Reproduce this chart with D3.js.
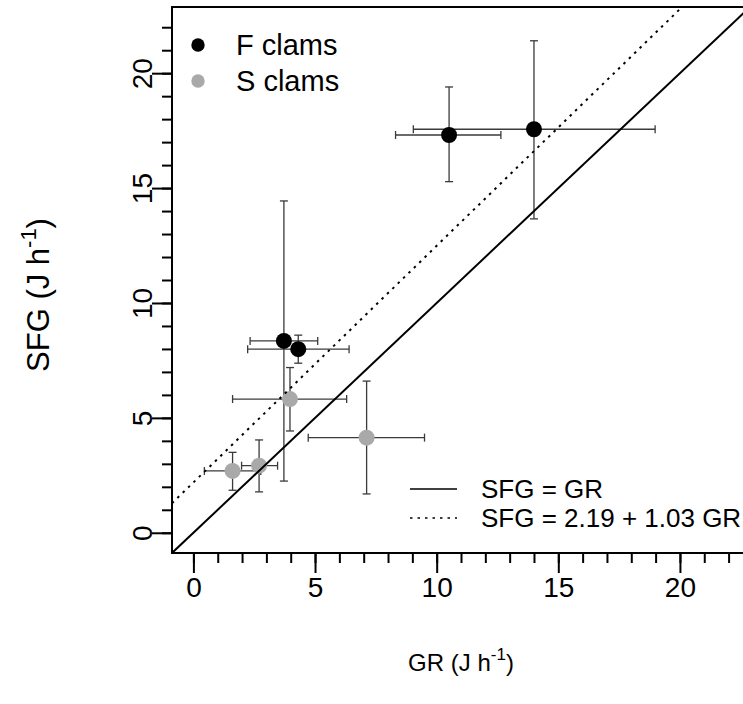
<!DOCTYPE html>
<html>
<head>
<meta charset="utf-8">
<script src="https://cdn.jsdelivr.net/npm/d3@7"></script>
<style>
  body { margin: 0; background: #fff; }
  text { font-family: Arial, "Liberation Sans", sans-serif; }
</style>
</head>
<body>
<div id="chart"></div>
<script>
// data
const group = ['F', 'F', 'F', 'F', 'S', 'S', 'S', 'S']
const gr = [3.72, 4.31, 10.51, 14.0, 1.61, 2.70, 3.97, 7.12]
const grLo = [2.33, 2.23, 8.31, 9.04, 0.45, 1.98, 1.61, 4.72]
const grHi = [5.11, 6.40, 12.64, 18.98, 2.77, 3.46, 6.30, 9.50]
const sfg = [8.35, 7.99, 17.31, 17.56, 2.69, 2.92, 5.82, 4.14]
const sfgLo = [2.25, 7.38, 15.28, 13.66, 1.85, 1.78, 4.43, 1.69]
const sfgHi = [14.44, 8.60, 19.40, 21.41, 3.50, 4.04, 7.19, 6.60]

const majorTicks = [0, 5, 10, 15, 20]
const minorTicks = d3.range(0, 23)
const fits = [
  { label: 'SFG = GR', a: 0, b: 1, dash: null },
  { label: 'SFG = 2.19 + 1.03 GR', a: 2.19, b: 1.03, dash: '2.5,5' }
]
const groupNames = ['F clams', 'S clams']
const colors = { F: '#000000', S: '#a9a9a9' }

const w = 743
const h = 704
const pLeft = 172, pRight = 750, pTop = 7, pBottom = 553

const x = d3.scaleLinear().domain([-0.88, 22.88]).range([pLeft, pRight])
const y = d3.scaleLinear().domain([-0.88, 22.88]).range([pBottom, pTop])

const data = group.map((g, i) => ({
  g: g, x: gr[i], xl: grLo[i], xh: grHi[i], y: sfg[i], yl: sfgLo[i], yh: sfgHi[i]
}))

const svg = d3.select('#chart')
  .append('svg')
  .attr('width', w)
  .attr('height', h)

svg.append('rect').attr('width', w).attr('height', h).attr('fill', '#fff')

svg.append('clipPath').attr('id', 'clip')
  .append('rect')
  .attr('x', pLeft).attr('y', pTop)
  .attr('width', pRight - pLeft).attr('height', pBottom - pTop)

// error bars
const cap = 4
const bars = svg.append('g')
  .attr('stroke', '#3a3a3a')
  .attr('stroke-width', 1.3)
  .attr('fill', 'none')

data.forEach(d => {
  bars.append('line').attr('x1', x(d.xl)).attr('x2', x(d.xh)).attr('y1', y(d.y)).attr('y2', y(d.y))
  bars.append('line').attr('x1', x(d.xl)).attr('x2', x(d.xl)).attr('y1', y(d.y) - cap).attr('y2', y(d.y) + cap)
  bars.append('line').attr('x1', x(d.xh)).attr('x2', x(d.xh)).attr('y1', y(d.y) - cap).attr('y2', y(d.y) + cap)
  bars.append('line').attr('x1', x(d.x)).attr('x2', x(d.x)).attr('y1', y(d.yl)).attr('y2', y(d.yh))
  bars.append('line').attr('x1', x(d.x) - cap).attr('x2', x(d.x) + cap).attr('y1', y(d.yl)).attr('y2', y(d.yl))
  bars.append('line').attr('x1', x(d.x) - cap).attr('x2', x(d.x) + cap).attr('y1', y(d.yh)).attr('y2', y(d.yh))
})

svg.selectAll('circle.pt')
  .data(data)
  .enter()
  .append('circle')
  .attr('class', 'pt')
  .attr('cx', d => x(d.x))
  .attr('cy', d => y(d.y))
  .attr('r', 8)
  .attr('fill', d => colors[d.g])

// fitted lines
const x0 = -0.88, x1 = 22.88
svg.append('g').attr('clip-path', 'url(#clip)')
  .selectAll('line')
  .data(fits)
  .enter()
  .append('line')
  .attr('x1', x(x0))
  .attr('x2', x(x1))
  .attr('y1', d => y(d.a + d.b * x0))
  .attr('y2', d => y(d.a + d.b * x1))
  .attr('stroke', '#000')
  .attr('stroke-width', 2)
  .attr('stroke-dasharray', d => d.dash)

// box
svg.append('rect')
  .attr('x', pLeft).attr('y', pTop)
  .attr('width', pRight - pLeft).attr('height', pBottom - pTop)
  .attr('fill', 'none').attr('stroke', '#000').attr('stroke-width', 2)

// axes
const minorX = d3.axisBottom(x).tickValues(minorTicks).tickSize(10).tickFormat('')
const majorX = d3.axisBottom(x).tickValues(majorTicks).tickSize(20).tickPadding(4)
const minorY = d3.axisLeft(y).tickValues(minorTicks).tickSize(10).tickFormat('')
const majorY = d3.axisLeft(y).tickValues(majorTicks).tickSize(20)

function style(g) {
  g.select('.domain').remove()
  g.selectAll('line').attr('stroke', '#000').attr('stroke-width', 2)
  g.selectAll('text').attr('fill', '#000').style('font-size', '28px')
}

svg.append('g').attr('transform', `translate(0,${pBottom})`).call(minorX).call(style)
svg.append('g').attr('transform', `translate(0,${pBottom})`).call(majorX).call(style)
svg.append('g').attr('transform', `translate(${pLeft},0)`).call(minorY).call(style)
const gy = svg.append('g').attr('transform', `translate(${pLeft},0)`).call(majorY).call(style)
gy.selectAll('text')
  .attr('x', null).attr('dy', null)
  .attr('text-anchor', 'middle')
  .attr('transform', 'translate(-20,0) rotate(-90)')

// axis titles
const xt = svg.append('text')
  .attr('x', (pLeft + pRight) / 2)
  .attr('y', 671)
  .attr('text-anchor', 'middle')
  .style('font-size', '24px')
xt.append('tspan').text('GR (J h')
xt.append('tspan').attr('dy', -11).style('font-size', '17px').text('-1')
xt.append('tspan').attr('dy', 11).text(')')

const yt = svg.append('text')
  .attr('transform', `translate(49,295) rotate(-90)`)
  .attr('text-anchor', 'middle')
  .style('font-size', '31px')
yt.append('tspan').text('SFG (J h')
yt.append('tspan').attr('dy', -13).style('font-size', '22px').text('-1')
yt.append('tspan').attr('dy', 13).text(')')

// group legend
const lg = svg.append('g')
groupNames.forEach((name, i) => {
  lg.append('circle').attr('cx', 198).attr('cy', 45 + i * 36).attr('r', 6.7)
    .attr('fill', colors[['F', 'S'][i]])
  lg.append('text').attr('x', 236).attr('y', 55 + i * 36).style('font-size', '29px').text(name)
})

// line legend
const ll = svg.append('g')
fits.forEach((f, i) => {
  ll.append('line').attr('x1', 410).attr('x2', 457)
    .attr('y1', 489 + i * 29).attr('y2', 489 + i * 29)
    .attr('stroke', '#000').attr('stroke-width', 1.6)
    .attr('stroke-dasharray', f.dash)
  ll.append('text').attr('x', 481).attr('y', 498 + i * 29).style('font-size', '26px').text(f.label)
})
</script>
</body>
</html>
